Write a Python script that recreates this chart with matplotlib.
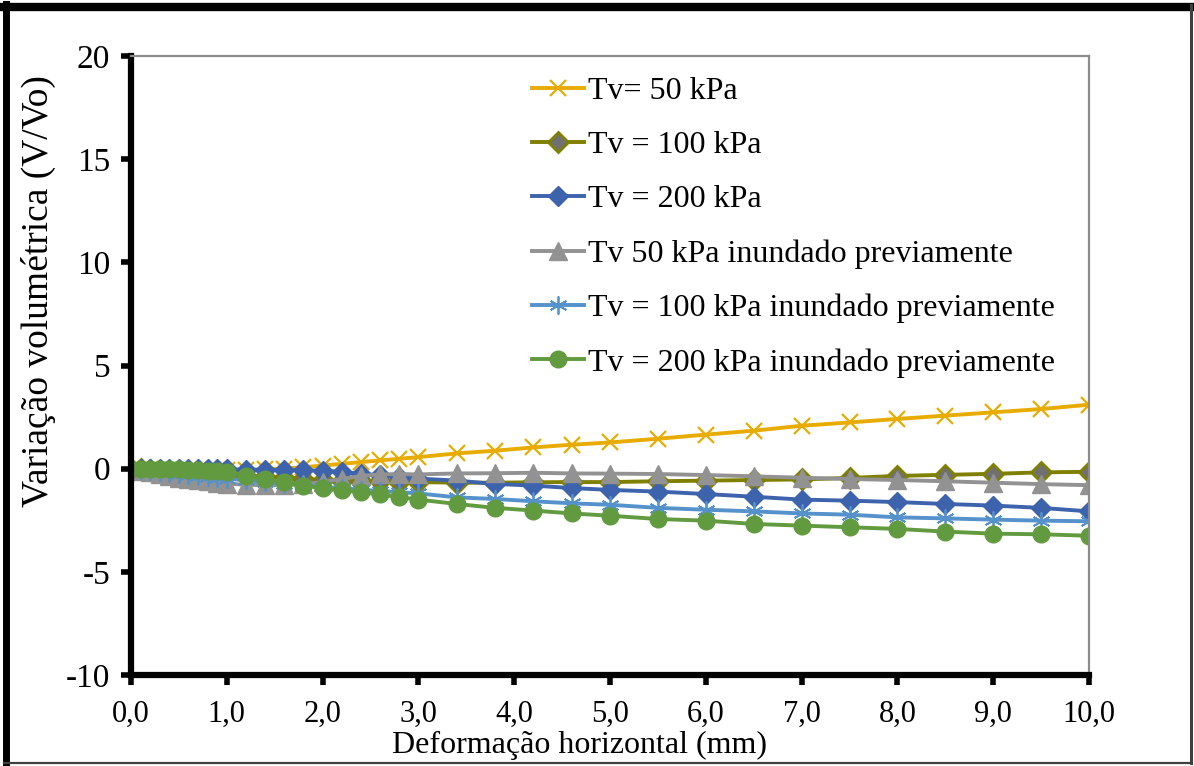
import matplotlib
matplotlib.use('Agg')
import matplotlib.pyplot as plt
from matplotlib.lines import Line2D

# deslocamento horizontal (mm)
x_mm = [0.0, 0.1, 0.2, 0.3, 0.4, 0.5, 0.6, 0.7, 0.8, 0.9, 1.0,
        1.2, 1.4, 1.6, 1.8, 2.0, 2.2, 2.4, 2.6, 2.8, 3.0,
        3.4, 3.8, 4.2, 4.6, 5.0, 5.5, 6.0, 6.5, 7.0, 7.5,
        8.0, 8.5, 9.0, 9.5, 10.0]

tv50 = [0.0, -0.02, -0.04, -0.05, -0.06, -0.07, -0.08, -0.08, -0.08, -0.08, -0.08,
        -0.06, -0.04, 0.0, 0.07, 0.15, 0.23, 0.32, 0.40, 0.48, 0.56,
        0.74, 0.87, 1.03, 1.16, 1.27, 1.45, 1.65, 1.84, 2.08, 2.24,
        2.41, 2.57, 2.73, 2.89, 3.10]
tv100 = [0.0, -0.03, -0.06, -0.09, -0.12, -0.15, -0.18, -0.21, -0.24, -0.27, -0.30,
         -0.35, -0.40, -0.45, -0.50, -0.55, -0.58, -0.60, -0.62, -0.64, -0.65,
         -0.68, -0.68, -0.66, -0.65, -0.65, -0.61, -0.58, -0.55, -0.52, -0.45,
         -0.35, -0.30, -0.25, -0.18, -0.15]
tv200 = [0.0, 0.0, -0.01, -0.01, -0.01, -0.02, -0.02, -0.02, -0.03, -0.03, -0.03,
         -0.05, -0.05, -0.07, -0.08, -0.10, -0.15, -0.25, -0.32, -0.40, -0.48,
         -0.58, -0.74, -0.82, -0.94, -1.03, -1.11, -1.23, -1.36, -1.50, -1.55,
         -1.62, -1.71, -1.79, -1.90, -2.07]
tv50_inund = [0.0, -0.10, -0.15, -0.25, -0.35, -0.45, -0.50, -0.55, -0.62, -0.68, -0.72,
              -0.78, -0.80, -0.80, -0.75, -0.65, -0.50, -0.35, -0.28, -0.26, -0.28,
              -0.23, -0.22, -0.20, -0.23, -0.24, -0.26, -0.31, -0.37, -0.44, -0.50,
              -0.55, -0.61, -0.68, -0.75, -0.80]
tv100_inund = [0.0, -0.05, -0.10, -0.15, -0.20, -0.25, -0.30, -0.35, -0.40, -0.45, -0.50,
               -0.55, -0.65, -0.72, -0.80, -0.88, -0.95, -1.02, -1.08, -1.14, -1.20,
               -1.39, -1.47, -1.58, -1.68, -1.75, -1.90, -1.99, -2.07, -2.17, -2.23,
               -2.36, -2.41, -2.47, -2.52, -2.55]
tv200_inund = [0.0, 0.0, -0.01, -0.02, -0.03, -0.04, -0.06, -0.08, -0.10, -0.12, -0.15,
               -0.34, -0.50, -0.66, -0.82, -0.95, -1.05, -1.15, -1.25, -1.38, -1.50,
               -1.71, -1.90, -2.03, -2.17, -2.28, -2.44, -2.52, -2.68, -2.76, -2.84,
               -2.92, -3.05, -3.15, -3.18, -3.25]

x_ticks = [0, 1, 2, 3, 4, 5, 6, 7, 8, 9, 10]
x_tick_labels = ['0,0', '1,0', '2,0', '3,0', '4,0', '5,0', '6,0', '7,0', '8,0', '9,0', '10,0']
y_ticks = [-10, -5, 0, 5, 10, 15, 20]

plt.rcParams['font.family'] = ['Liberation Serif', 'DejaVu Serif']
plt.rcParams['axes.unicode_minus'] = False

fig = plt.figure(figsize=(11.94, 7.66), dpi=100)
ax = fig.add_axes([131 / 1194, 1 - 675 / 766, 958 / 1194, 619 / 766])

lw = 2.8
ax.plot(x_mm, tv50, color='#e8ac00', lw=lw, marker='x', ms=12, mew=1.6,
        label='Tv= 50 kPa')
ax.plot(x_mm, tv100, color='#7f7f00', lw=lw, marker='D', ms=10, mfc='#707070',
        mec='#7f7f00', mew=2, label='Tv = 100 kPa')
ax.plot(x_mm, tv200, color='#3d63ad', lw=lw, marker='D', ms=10,
        label='Tv = 200 kPa')
ax.plot(x_mm, tv50_inund, color='#929292', lw=lw, marker='^', ms=13,
        label='Tv 50 kPa inundado previamente')
ax.plot(x_mm, tv100_inund, color='#5592cb', lw=lw, marker=(6, 2, 0), ms=13, mew=1.3,
        label='Tv = 100 kPa inundado previamente')
ax.plot(x_mm, tv200_inund, color='#629b3f', lw=lw, marker='o', ms=12,
        label='Tv = 200 kPa inundado previamente')

ax.set_xlim(0, 10)
ax.set_ylim(-10, 20)
ax.set_xticks(x_ticks)
ax.set_xticklabels(x_tick_labels)
ax.set_yticks(y_ticks)

for side in ['left', 'bottom']:
    ax.spines[side].set_linewidth(4.5)
    ax.spines[side].set_color('black')
for side in ['top', 'right']:
    ax.spines[side].set_linewidth(1.6)
    ax.spines[side].set_color('#8c8c8c')

ax.tick_params(axis='both', direction='out', length=7, width=4, color='black')
ax.tick_params(axis='x', pad=11, labelsize=22)
ax.tick_params(axis='y', pad=8, labelsize=24)

ax.set_xlabel('Deformação horizontal (mm)', fontsize=23)
ax.set_ylabel('Variação volumétrica (V/Vo)', fontsize=27)
ax.xaxis.set_label_coords(0.468, -0.09)
ax.yaxis.set_label_coords(-0.078, 0.62)

ax.legend(loc='upper left', bbox_to_anchor=(0.419, 0.967), frameon=False,
          fontsize=23, handlelength=1.6, handletextpad=0.15, labelspacing=0.78,
          borderpad=0, borderaxespad=0)

# moldura da figura
fig.add_artist(Line2D([0.0, 0.9975], [0.991, 0.991], transform=fig.transFigure,
                      color='black', lw=6))
fig.add_artist(Line2D([0.005, 0.005], [0.004, 0.995], transform=fig.transFigure,
                      color='black', lw=5))
fig.add_artist(Line2D([0.9975, 0.9975], [0.004, 0.993], transform=fig.transFigure,
                      color='#404040', lw=2.2))
fig.add_artist(Line2D([0.003, 0.9975], [0.004, 0.004], transform=fig.transFigure,
                      color='#404040', lw=1.6))

plt.savefig('out.png', dpi=100)
plt.close()
